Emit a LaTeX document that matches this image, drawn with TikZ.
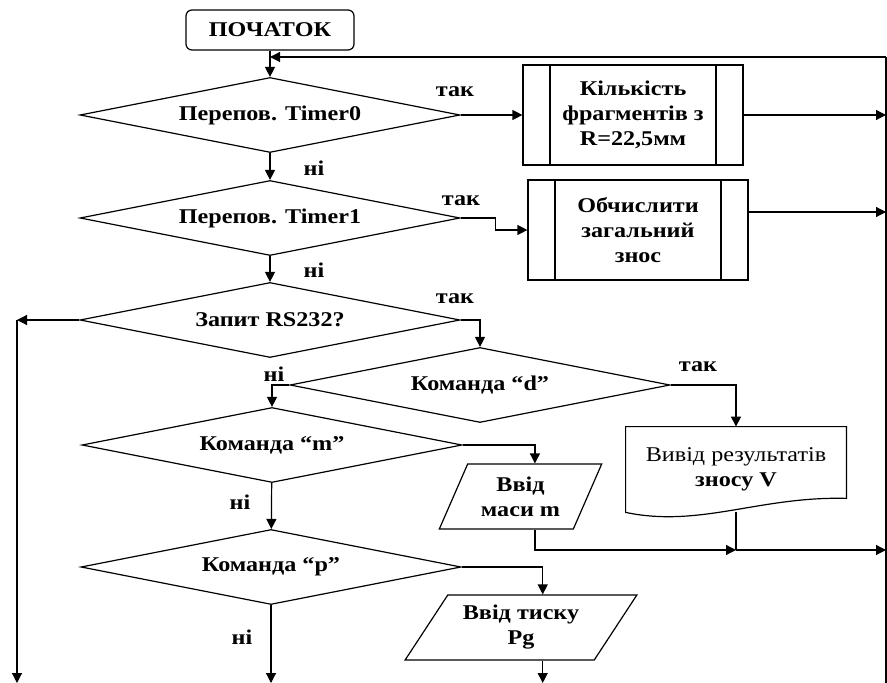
\documentclass[tikz,border=0pt]{standalone}
\usepackage{fontspec}
\setmainfont{Liberation Serif}[FakeStretch=1.15]
\usetikzlibrary{shapes.geometric,arrows.meta,positioning}

\tikzset{
  base/.style={draw, line width=0.6pt, align=center, font=\fontsize{10.5}{12.5}\selectfont\bfseries, inner sep=1pt},
  term/.style={base, rounded corners=3pt, minimum width=84pt, minimum height=20pt},
  decision/.style={base, diamond, aspect=5, minimum width=190pt, minimum height=37.5pt},
  predef/.style={base, minimum width=110pt, minimum height=50pt,
    path picture={\draw[line width=0.6pt]
      ([xshift=13.5pt]path picture bounding box.north west) -- ([xshift=13.5pt]path picture bounding box.south west)
      ([xshift=-13.5pt]path picture bounding box.north east) -- ([xshift=-13.5pt]path picture bounding box.south east);}},
  io/.style={base, trapezium, trapezium stretches=true, minimum height=32.5pt},
  lbl/.style={font=\fontsize{10.5}{12.5}\selectfont\bfseries, inner sep=0pt},
  line/.style={line width=0.6pt},
  arr/.style={line, -{Triangle[length=5pt,width=5pt]}},
}

\begin{document}
\begin{tikzpicture}[x=0.5pt,y=-0.5pt]
\useasboundingbox (0,0) rectangle (887,683);
\node[term] (S) at (270,30) {ПОЧАТОК};
\node[decision] (D0) at (270,115) {Перепов. Timer0};
\node[decision] (D1) at (270,218) {Перепов. Timer1};
\node[decision] (D2) at (270,320) {Запит RS232?};
\node[decision] (D3) at (480,385) {Команда “d”};
\node[decision] (D4) at (272,445) {Команда “m”};
\node[decision] (D5) at (271,567) {Команда “p”};
\node[predef] (B0) at (633,115) {Кількість\\фрагментів з\\R=22,5мм};
\node[predef] (B1) at (638,230) {Обчислити\\загальний\\знос};
\node[io, trapezium left angle=63, trapezium right angle=117, minimum width=81.5pt] (I0) at (520.5,496.5) {Ввід\\маси m};
\node[io, trapezium left angle=54, trapezium right angle=126, minimum width=116pt] (I1) at (521,627.5) {Ввід тиску\\Pg};
\node[align=center, inner sep=0pt, minimum width=110pt, minimum height=42.5pt,
  font=\fontsize{10.5}{12.5}\selectfont] (O) at (736,469.5) {Вивід результатів\\\textbf{зносу V}};
\draw[line] (O.north west) -- (O.north east) -- ([yshift=7pt]O.south east)
  .. controls (760,496) and (700,528) .. (O.south west) -- cycle;

% labels
\node[lbl] (L0) at (455,92) {так};
\node[lbl] (L1) at (314,168) {ні};
\node[lbl] (L2) at (461,201) {так};
\node[lbl] (L3) at (314,270) {ні};
\node[lbl] (L4) at (455,299) {так};
\node[lbl] (L5) at (274,374) {ні};
\node[lbl] (L6) at (698,367) {так};
\node[lbl] (L7) at (240,502) {ні};
\node[lbl] (L8) at (242,637) {ні};

% connectors
\coordinate (RT) at (886,57);
\coordinate (RB) at (886,683);
\coordinate (LT) at (17,320);
\coordinate (LB) at (17,683);
\coordinate (J) at (736,550);
\draw[line] (RT) -- (RB);
\draw[arr] (RT) -- (S.south |- RT);
\draw[arr] (S) -- (D0);
\draw[arr] (D0) -- (B0);
\draw[arr] (B0) -- (B0 -| RT);
\draw[arr] (D0) -- (D1);
\draw[arr] (D1.east) -- ++(35,0) |- (B1.west);
\draw[arr] ([yshift=9pt]B1.east) -- ([yshift=9pt]B1.east -| RT);
\draw[arr] (D1) -- (D2);
\draw[arr] (D2.west) -- (LT);
\draw[arr] (LT) -- (LB);
\draw[arr] (D2.east) -| (D3.north);
\draw[arr] (D3.east) -| (O.north);
\draw[arr] (D3.west) -| (D4.north);
\draw[arr] (D4.east) -| (I0.top side);
\draw[arr] (D4) -- (D5);
\draw[arr] (D5.east) -| (I1.top side);
\draw[arr] (D5.south) -- (D5.south |- LB);
\draw[arr] (I1.bottom side -| I1.top side) -- (I1.top side |- LB);
\draw[arr] (I0.bottom side -| I0.top side) |- (J);
\draw[line] (O.south) -- (J);
\draw[arr] (J) -- (J -| RT);
\end{tikzpicture}
\end{document}
